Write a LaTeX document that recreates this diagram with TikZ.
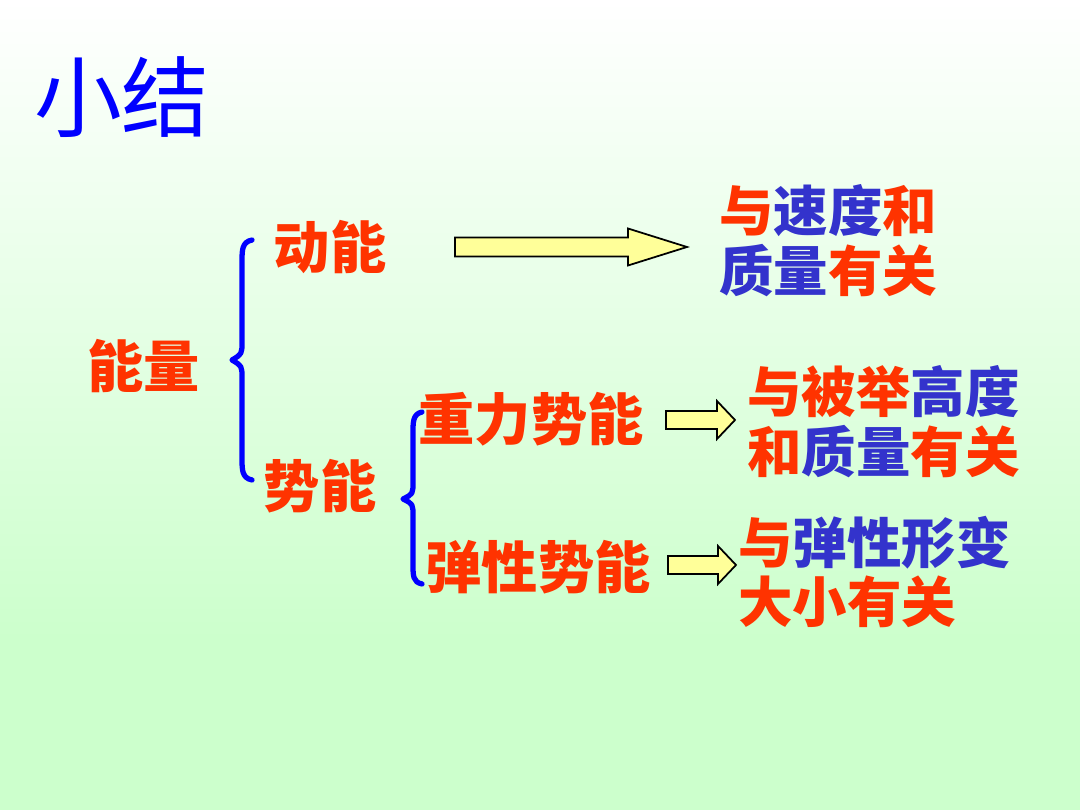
\documentclass[tikz,border=0pt]{standalone}
\usepackage{fontspec}
\usepackage{xcolor}
\usepackage{tikz}
\usetikzlibrary{calc}
\newfontfamily\cjk{Noto Sans CJK SC}
\definecolor{ored}{HTML}{FF3300}
\definecolor{iblue}{HTML}{3333CC}
\definecolor{pblue}{HTML}{0000FF}
\definecolor{pale}{HTML}{CCFFCC}
\definecolor{lemon}{HTML}{FFFF99}
\tikzset{
  word/.style={text=ored, inner sep=0pt, font=\cjk\bfseries\fontsize{32}{36}\selectfont},
  note/.style={word, align=left, font=\cjk\bfseries\fontsize{31}{34}\selectfont},
  brace/.style={draw=pblue, line width=3pt, line cap=round, line join=round},
  blk/.style={draw=black, fill=lemon, line width=1pt, line join=miter},
}
\newcommand{\bl}[1]{\textcolor{iblue}{#1}}
% block arrow: start, end, shaft half, head half, head length
\newcommand{\barrow}[5]{%
  \draw[blk] ($(#1)+(0,-#3)$) -- ($(#2)+(-#5,-#3)$) -- ($(#2)+(-#5,-#4)$) -- (#2)
    -- ($(#2)+(-#5,#4)$) -- ($(#2)+(-#5,#3)$) -- ($(#1)+(0,#3)$) -- cycle;}

\begin{document}
\begin{tikzpicture}[x=0.02cm, y=-0.02cm]
  \useasboundingbox (0,0) rectangle (1080,810);
  \fill[pale] (0,0) rectangle (1080,810);
  \shade[top color=white, bottom color=pale] (0,0) rectangle (1080,640);

  \node[text=pblue, inner sep=0pt, font=\cjk\fontsize{50}{56}\selectfont] (title) at (122,97) {小结};

  \node[word] (energy) at (144,366) {能量};
  \node[word] (kin) at (330,247) {动能};
  \node[word] (pot) at (320,486) {势能};
  \node[word] (grav) at (531,419) {重力势能};
  \node[word] (elas) at (538,567) {弹性势能};

  \node[note, anchor=west] (kinr) at (719,241) {与\bl{速度}和\\\bl{质量}有关};
  \node[note, anchor=west] (gravr) at (747,422) {与被举\bl{高度}\\和\bl{质量}有关};
  \node[note, anchor=west] (elasr) at (738,572) {与\bl{弹性形变}\\大小有关};

  % braces
  \draw[brace] (252,240) .. controls (242,242) and (242,250) .. (242,262) -- (242,342)
    .. controls (242,354) .. (232,360) .. controls (242,366) .. (242,378) -- (242,458)
    .. controls (242,470) and (242,478) .. (252,480);
  \draw[brace] (422,412) .. controls (413,414) and (413,422) .. (413,432) -- (413,482)
    .. controls (413,494) .. (403,499) .. controls (413,504) .. (413,516) -- (413,564)
    .. controls (413,576) and (413,582) .. (422,584);

  % arrows
  \coordinate (k0) at (455,247);
  \coordinate (k1) at (687,247);
  \coordinate (g0) at (666,420);
  \coordinate (g1) at (735,420);
  \coordinate (e0) at (668,565);
  \coordinate (e1) at (736,565);
  \barrow{k0}{k1}{9.5}{18.5}{59}
  \barrow{g0}{g1}{9}{19}{18}
  \barrow{e0}{e1}{9}{19}{18}
\end{tikzpicture}
\end{document}
